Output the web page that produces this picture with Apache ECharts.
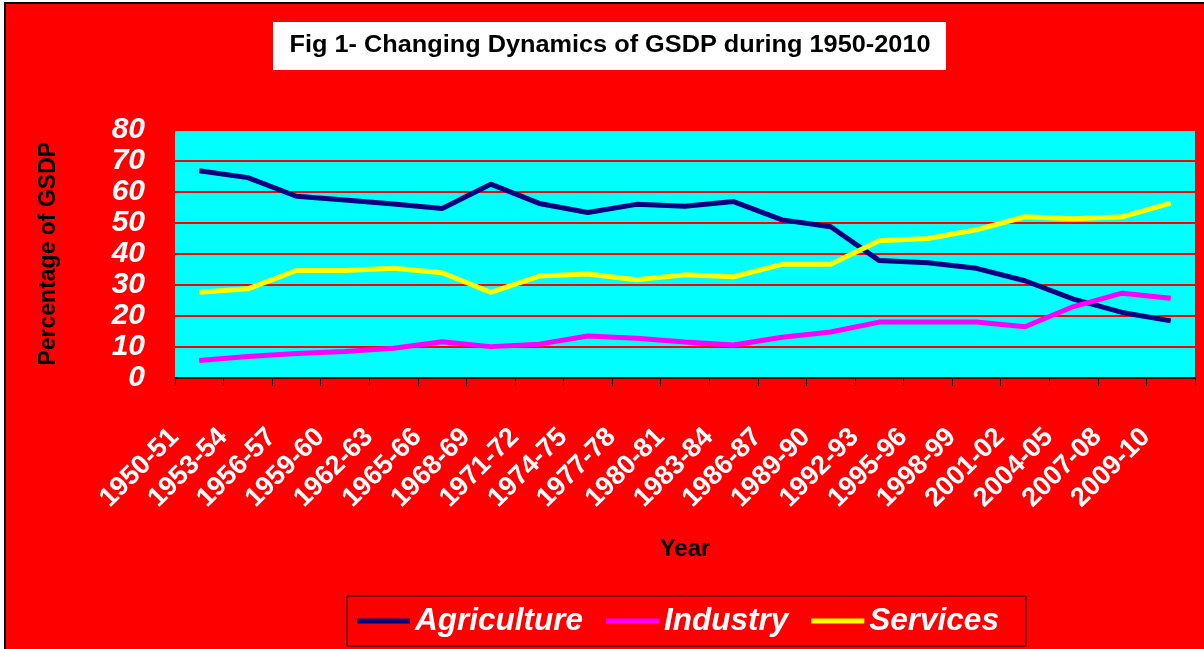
<!DOCTYPE html>
<html>
<head>
<meta charset="utf-8">
<script src="https://cdn.jsdelivr.net/npm/echarts@6/dist/echarts.min.js"></script>
<style>
  html, body { margin: 0; padding: 0; background: #fff; }
  #main { width: 1204px; height: 649px; }
</style>
</head>
<body>
<div id="main"></div>
<script>
var years = ['1950-51', '1953-54', '1956-57', '1959-60', '1962-63', '1965-66', '1968-69',
    '1971-72', '1974-75', '1977-78', '1980-81', '1983-84', '1986-87', '1989-90',
    '1992-93', '1995-96', '1998-99', '2001-02', '2004-05', '2007-08', '2009-10'];
var agriculture = [66.7, 64.5, 58.5, 57.3, 56.0, 54.6, 62.4, 56.2, 53.3, 55.9, 55.3,
    56.8, 50.9, 48.7, 37.8, 37.1, 35.3, 31.3, 25.4, 21.1, 18.4];
var industry = [5.6, 6.9, 7.9, 8.5, 9.6, 11.7, 10.1, 10.9, 13.5, 12.8, 11.6,
    10.6, 13.1, 14.8, 18.0, 18.0, 18.0, 16.5, 23.0, 27.3, 25.7];
var services = [27.6, 28.7, 34.6, 34.6, 35.3, 33.9, 27.6, 32.8, 33.5, 31.6, 33.2,
    32.6, 36.6, 36.6, 44.2, 44.9, 47.7, 51.9, 51.3, 51.9, 56.3];
var seriesNames = ['Agriculture', 'Industry', 'Services'];
var seriesColors = ['#000080', '#ff00ff', '#ffff00'];
var titleText = 'Fig 1- Changing Dynamics of GSDP during 1950-2010';

var font = '"Liberation Sans", Arial, sans-serif';
var chart = echarts.init(document.getElementById('main'));

function lineSeries(i, data) {
    return {
        name: seriesNames[i],
        type: 'line',
        data: data,
        symbol: 'none',
        color: seriesColors[i],
        lineStyle: { width: 5, color: seriesColors[i] }
    };
}

var option = {
    backgroundColor: '#fff',
    animation: false,
    graphic: [
        {   // chart area frame
            type: 'rect', z: -10,
            shape: { x: 5, y: 3, width: 1220, height: 670 },
            style: { fill: '#ff0000', stroke: '#000', lineWidth: 2 }
        },
        {   // title box
            type: 'rect', z: -5,
            shape: { x: 273, y: 22, width: 673, height: 48 },
            style: { fill: '#fff' }
        },
        {   // title text, a bit wider like the original
            type: 'text', x: 610, y: 46, scaleX: 1.1,
            style: {
                text: titleText,
                font: 'bold 23px ' + font,
                fill: '#000',
                align: 'center',
                verticalAlign: 'middle'
            }
        }
    ],
    legend: {
        data: seriesNames,
        left: 347,
        top: 596,
        padding: [9, 27, 9, 10],
        itemGap: 23,
        itemWidth: 53,
        itemHeight: 5,
        icon: 'rect',
        borderColor: '#000',
        borderWidth: 1,
        textStyle: { fontFamily: font, fontSize: 31.5, fontWeight: 'bold', fontStyle: 'italic', color: '#fff' }
    },
    grid: {
        left: 175, right: 9, top: 129.5, bottom: 271,
        show: true, backgroundColor: '#00ffff', borderWidth: 0
    },
    xAxis: {
        type: 'category',
        data: years,
        boundaryGap: true,
        name: 'Year',
        nameLocation: 'middle',
        nameGap: 159,
        nameTextStyle: { fontFamily: font, fontSize: 24, fontWeight: 'bold', color: '#000' },
        axisLine: { lineStyle: { color: '#000', width: 1.5 } },
        axisTick: { show: true, length: 8, lineStyle: { color: '#000' } },
        axisLabel: {
            interval: 0, rotate: 45, margin: 30,
            padding: [0, 35, 0, 0],
            fontFamily: font, fontSize: 27, fontWeight: 'bold', color: '#fff'
        }
    },
    yAxis: {
        type: 'value',
        min: 0, max: 80, interval: 10,
        name: 'Percentage of GSDP',
        nameLocation: 'middle',
        nameGap: 115,
        nameTextStyle: { fontFamily: font, fontSize: 23, fontWeight: 'bold', color: '#000' },
        axisLine: { show: false },
        axisTick: { show: false },
        axisLabel: {
            margin: 30,
            fontFamily: font, fontSize: 30, fontWeight: 'bold', fontStyle: 'italic', color: '#fff'
        },
        splitLine: { lineStyle: { color: '#ff0000', width: 2 } }
    },
    series: [
        lineSeries(0, agriculture),
        lineSeries(1, industry),
        lineSeries(2, services)
    ]
};
chart.setOption(option);
</script>
</body>
</html>
